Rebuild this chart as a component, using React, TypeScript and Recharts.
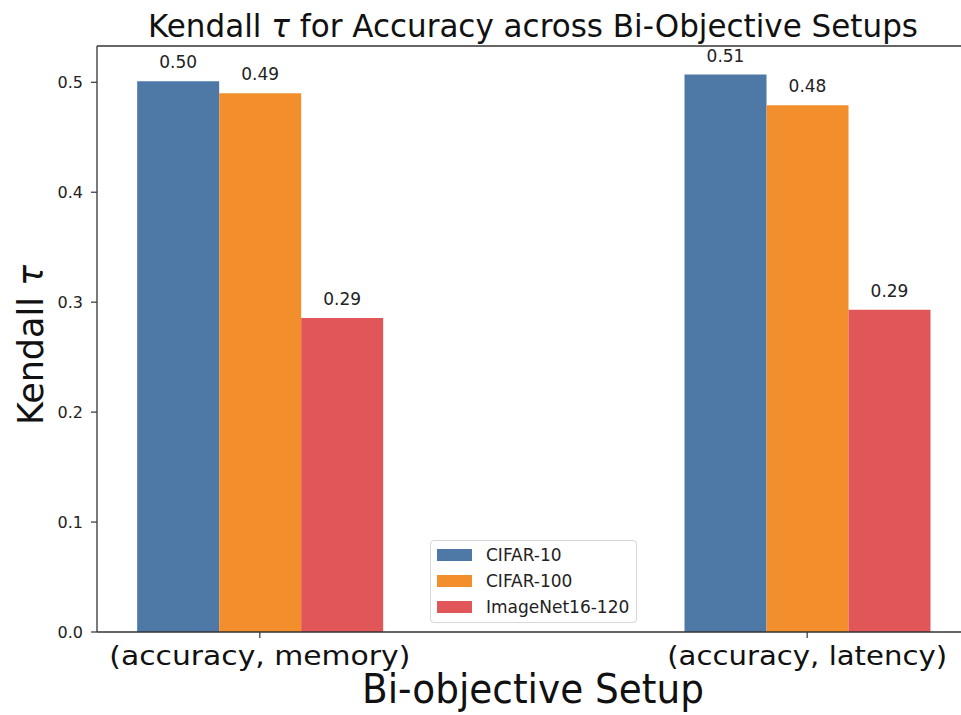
import React from 'react';
import { BarChart, Bar, XAxis, YAxis, LabelList, Legend, ReferenceLine } from 'recharts';

const categories = ['(accuracy, memory)', '(accuracy, latency)'];
const seriesNames = ['CIFAR-10', 'CIFAR-100', 'ImageNet16-120'];
const cifar10 = [0.501, 0.507];
const cifar100 = [0.49, 0.479];
const imagenet = [0.2855, 0.293];
const yTicks = [0, 0.1, 0.2, 0.3, 0.4, 0.5];
const xTicks = [0, 1];
const Y_MAX = 0.533;
const X_DOMAIN: [number, number] = [-0.2975, 1.2975];

const COLORS = ['#4e79a7', '#f28e2b', '#e15759'];
const FONT = '"DejaVu Sans", sans-serif';
const AXIS = '#333333';

const data = categories.map((c, i) => ({
  x: i,
  name: c,
  cifar10: cifar10[i],
  cifar100: cifar100[i],
  imagenet: imagenet[i],
}));

const XTick = (props: any) => {
  const { x, y, payload } = props;
  const idx = payload.value as number;
  const label = categories[idx];
  const lens = [301, 280];
  return (
    <text
      x={x}
      y={y + 27}
      textAnchor="middle"
      fontSize={27}
      fill="#111"
      fontFamily={FONT}
      textLength={lens[idx]}
      lengthAdjust="spacingAndGlyphs"
    >
      {label}
    </text>
  );
};

const LegendBox = (props: any) => {
  const payload = props.payload || [];
  return (
    <div
      style={{
        boxSizing: 'border-box',
        width: '100%',
        height: '100%',
        border: '1px solid #d6d6d6',
        borderRadius: 4,
        background: 'rgba(255,255,255,0.85)',
        paddingTop: 1,
        paddingLeft: 6,
        fontFamily: FONT,
      }}
    >
      {payload.map((p: any) => (
        <div key={p.value} style={{ display: 'flex', alignItems: 'center', height: 26 }}>
          <span style={{ display: 'inline-block', width: 35, height: 12, background: p.color, marginRight: 14 }} />
          <span style={{ fontSize: 17, color: '#222', lineHeight: '17px' }}>{p.value}</span>
        </div>
      ))}
    </div>
  );
};

export default function App() {
  return (
    <div style={{ position: 'fixed', left: 0, top: 0, width: 961, height: 715, overflow: 'hidden', background: '#fff', fontFamily: FONT }}>
      <BarChart
        width={1000}
        height={715}
        data={data}
        margin={{ top: 46, right: 30, left: 0, bottom: 0 }}
        barGap={0}
        barSize={82}
      >
        <XAxis
          dataKey="x"
          type="number"
          domain={X_DOMAIN}
          ticks={xTicks}
          tickCount={2}
          allowDataOverflow
          height={83}
          tick={<XTick />}
          tickSize={6}
          tickMargin={0}
          axisLine={{ stroke: AXIS, strokeWidth: 1.3 }}
          tickLine={{ stroke: AXIS, strokeWidth: 1.2 }}
        />
        <YAxis
          type="number"
          domain={[0, Y_MAX]}
          ticks={yTicks}
          allowDataOverflow
          width={97}
          tickSize={6}
          tickMargin={8}
          tickFormatter={(v: number) => v.toFixed(1)}
          tick={{ fontSize: 16, fill: '#222', fontFamily: FONT }}
          axisLine={{ stroke: AXIS, strokeWidth: 1.3 }}
          tickLine={{ stroke: AXIS, strokeWidth: 1.2 }}
        />
        <ReferenceLine y={Y_MAX} stroke={AXIS} strokeWidth={1.3} />
        <Bar dataKey="cifar10" name={seriesNames[0]} fill={COLORS[0]} isAnimationActive={false}>
          <LabelList dataKey="cifar10" position="top" offset={13} formatter={(v: any) => Number(v).toFixed(2)} fontSize={17} fill="#222" fontFamily={FONT} />
        </Bar>
        <Bar dataKey="cifar100" name={seriesNames[1]} fill={COLORS[1]} isAnimationActive={false}>
          <LabelList dataKey="cifar100" position="top" offset={13} formatter={(v: any) => Number(v).toFixed(2)} fontSize={17} fill="#222" fontFamily={FONT} />
        </Bar>
        <Bar dataKey="imagenet" name={seriesNames[2]} fill={COLORS[2]} isAnimationActive={false}>
          <LabelList dataKey="imagenet" position="top" offset={13} formatter={(v: any) => Number(v).toFixed(2)} fontSize={17} fill="#222" fontFamily={FONT} />
        </Bar>
        <Legend
          layout="vertical"
          align="center"
          verticalAlign="middle"
          content={<LegendBox />}
          wrapperStyle={{ position: 'absolute', left: 430, top: 540, width: 207, height: 83, bottom: 'auto', right: 'auto' }}
        />
      </BarChart>
      <svg width={961} height={715} style={{ position: 'absolute', left: 0, top: 0, pointerEvents: 'none' }}>
        <text x={533} y={37} textAnchor="middle" fontSize={32} fill="#111" fontFamily={FONT} textLength={770} lengthAdjust="spacingAndGlyphs">
          Kendall <tspan fontStyle="italic">τ</tspan> for Accuracy across Bi-Objective Setups
        </text>
        <text
          x={0}
          y={0}
          transform="translate(43, 345) rotate(-90)"
          textAnchor="middle"
          fontSize={36}
          fill="#111"
          fontFamily={FONT}
          textLength={160}
          lengthAdjust="spacingAndGlyphs"
        >
          Kendall <tspan fontStyle="italic">τ</tspan>
        </text>
        <text x={533} y={703} textAnchor="middle" fontSize={40} fill="#111" fontFamily={FONT} textLength={342} lengthAdjust="spacingAndGlyphs">
          Bi-objective Setup
        </text>
      </svg>
    </div>
  );
}
